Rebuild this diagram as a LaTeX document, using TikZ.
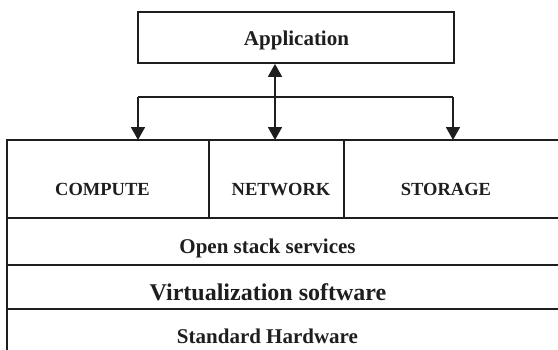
\documentclass[tikz,border=0pt]{standalone}
\usepackage{fontspec}
\setmainfont{Liberation Serif}
\usetikzlibrary{arrows.meta}
\definecolor{ink}{HTML}{1E1E1E}
\begin{document}
\begin{tikzpicture}[x=1pt,y=-1pt,line width=1.8pt,draw=ink,
  arr/.style={-{Triangle[length=13pt,width=14pt]}},
  biarr/.style={{Triangle[length=13pt,width=14pt]}-{Triangle[length=13pt,width=14pt]}},
  boxed/.style={draw=ink,inner sep=0pt},
  lblbig/.style={font=\bfseries\fontsize{21}{24}\selectfont,text=ink,inner sep=0pt,anchor=base},
  lblvirt/.style={font=\bfseries\fontsize{24}{28}\selectfont,text=ink,inner sep=0pt,anchor=base},
  lblcap/.style={font=\bfseries\fontsize{18.5}{22}\selectfont,text=ink,inner sep=0pt,anchor=base}]
\useasboundingbox (0,0) rectangle (558,349);
\clip (0,0) rectangle (558,349);
% application box
\node[boxed,minimum width=316pt,minimum height=51pt] (app) at (296,37.5) {};
\node[lblbig] (apptext) at (296.5,45) {Application};
% stack grid
\coordinate (gTL) at (7,140);
\coordinate (gTR) at (575,140);
\draw (7,360) -- (gTL) -- (gTR);
\draw (7,218) -- (575,218);
\draw (7,265) -- (575,265);
\draw (7,309) -- (575,309);
\draw (209,140) -- (209,218);
\draw (344,140) -- (344,218);
% labels
\node[lblcap] (compute) at (102.5,195) {COMPUTE};
\node[lblcap] (network) at (281,195) {NETWORK};
\node[lblcap] (storage) at (446,195) {STORAGE};
\node[lblbig] (openstack) at (267.5,253) {Open stack services};
\node[lblvirt] (virt) at (268,300) {Virtualization software};
\node[lblbig] (hw) at (267.5,343) {Standard Hardware};
% connectors
\coordinate (cL) at (138,140);
\coordinate (cN) at (275,140);
\coordinate (cR) at (453,140);
\coordinate (bL) at (138,97);
\coordinate (bR) at (453,97);
\draw (bL) -- (bR);
\draw[arr] (bL) -- (cL);
\draw[arr] (bR) -- (cR);
\draw[biarr] (app.south -| cN) -- (cN);
\end{tikzpicture}
\end{document}
